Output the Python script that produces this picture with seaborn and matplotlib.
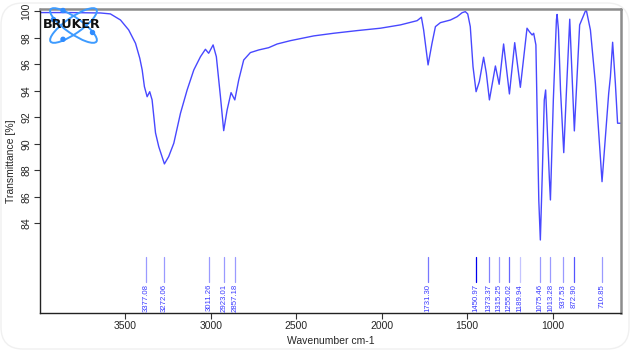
import matplotlib
matplotlib.use("Agg")
import matplotlib.pyplot as plt
import matplotlib.transforms as mtransforms
from matplotlib.patches import Ellipse, Circle, FancyBboxPatch
import seaborn as sns
import pandas as pd

# ---- data ----
wavenumber = [4000, 3822, 3646, 3588, 3529, 3481, 3441, 3416, 3402, 3389, 3373, 3358,
              3344, 3324, 3305, 3272, 3247, 3217, 3178, 3139, 3100, 3061, 3032, 3013,
              2987, 2968, 2944, 2925, 2905, 2882, 2860, 2837, 2808, 2769, 2720, 2662,
              2612, 2535, 2398, 2281, 2144, 2008, 1891, 1793, 1768, 1755, 1729, 1706,
              1686, 1657, 1598, 1559, 1530, 1511, 1497, 1482, 1466, 1448, 1429, 1404,
              1388, 1370, 1335, 1313, 1287, 1253, 1222, 1189, 1150, 1136, 1120, 1111,
              1098, 1090, 1081, 1072, 1060, 1049, 1041, 1031, 1019, 1013, 996, 978,
              974, 966, 954, 935, 919, 900, 873, 842, 822, 804, 779, 750, 711, 672,
              662, 649, 633, 620, 600]
transmittance = [99.90, 99.90, 99.87, 99.80, 99.34, 98.59, 97.58, 96.45, 95.57, 94.31, 93.55, 93.93,
                 93.31, 90.82, 89.78, 88.48, 89.03, 90.04, 92.30, 94.06, 95.57, 96.57, 97.13, 96.83,
                 97.46, 96.57, 93.55, 90.99, 92.55, 93.86, 93.31, 94.82, 96.32, 96.88, 97.08, 97.25,
                 97.53, 97.78, 98.14, 98.34, 98.54, 98.72, 98.97, 99.29, 99.55, 98.59, 95.95, 97.58,
                 98.84, 99.14, 99.34, 99.59, 99.89, 99.97, 99.80, 98.84, 95.82, 93.93, 94.69, 96.53,
                 95.32, 93.31, 95.87, 94.49, 97.53, 93.76, 97.63, 94.26, 98.72, 98.46, 98.21, 98.34,
                 97.46, 91.80, 85.70, 82.74, 88.00, 93.30, 94.06, 91.00, 87.30, 85.76, 93.30, 99.34,
                 99.76, 98.60, 94.06, 89.33, 94.06, 99.40, 90.97, 98.97, 99.59, 100.15, 98.59, 94.57, 87.14, 93.81,
                 95.06, 97.66, 94.57, 91.55, 91.55]

peak_positions = [3377.08, 3272.06, 3011.26, 2923.01, 2857.18, 1731.30, 1450.97, 1373.37,
                  1315.25, 1255.02, 1189.94, 1075.46, 1013.28, 937.53, 872.90, 710.85]
peak_labels = ["3377.08", "3272.06", "3011.26", "2923.01", "2857.18", "1731.30", "1450.97", "1373.37",
               "1315.25", "1255.02", "1189.94", "1075.46", "1013.28", "937.53", "872.90", "710.85"]
peak_line_colors = ["#9a9aff", "#9a9aff", "#9a9aff", "#9a9aff", "#9a9aff", "#7777ff", "#0000ee", "#8080ff",
                    "#9a9aff", "#6666ff", "#c4c4ff", "#9a9aff", "#9a9aff", "#9a9aff", "#5555ff", "#9a9aff"]

x_ticks = [3500, 3000, 2500, 2000, 1500, 1000]
y_ticks = [84, 86, 88, 90, 92, 94, 96, 98, 100]

df = pd.DataFrame({"Wavenumber": wavenumber, "Transmittance": transmittance})

sns.set_style("white")
plt.rcParams["font.family"] = ["Liberation Sans", "DejaVu Sans"]

fig = plt.figure(figsize=(6.33, 3.52), dpi=100)
ax = fig.add_axes([40 / 633, 39 / 352, 581 / 633, 304 / 352])

sns.lineplot(data=df, x="Wavenumber", y="Transmittance", ax=ax, color="#4848ff",
             linewidth=1.0, sort=True, estimator=None)

ax.set_xlim(4000, 600)
ax.set_ylim(77.23, 100.17)
ax.set_xticks(x_ticks)
ax.set_xticklabels([str(t) for t in x_ticks], fontsize=7.5)
ax.set_yticks(y_ticks)
ax.set_yticklabels([str(t) for t in y_ticks], fontsize=7.5, rotation=90, va="center")
ax.tick_params(axis="both", direction="out", length=4, width=0.8, color="#333333",
               left=True, bottom=True, pad=2)
ax.set_xlabel("Wavenumber cm-1", fontsize=7.5, labelpad=3)
ax.set_ylabel("Transmittance [%]", fontsize=7.5, labelpad=4)

for side in ["left", "bottom"]:
    ax.spines[side].set_color("#222222")
    ax.spines[side].set_linewidth(1.0)
for side in ["top", "right"]:
    ax.spines[side].set_color("#8c8c8c")
    ax.spines[side].set_linewidth(1.8)

# peak markers
trans = mtransforms.blended_transform_factory(ax.transData, ax.transAxes)
for pos, lab, c in zip(peak_positions, peak_labels, peak_line_colors):
    ax.plot([pos, pos], [0.184, 0.103], transform=trans, color=c, linewidth=0.9, clip_on=False)
    ax.text(pos, 0.095, lab, transform=trans, rotation=90, ha="center", va="top",
            fontsize=5.6, color="#3a3aff")

# Bruker logo (pixel coordinates, origin bottom-left)
pix = mtransforms.IdentityTransform()
cx, cy = 73.5, 352 - 25.5
for ang in (35, -35):
    fig.patches.append(Ellipse((cx, cy), 56, 16, angle=ang, fill=False,
                               edgecolor="#3d9bff", linewidth=1.4, transform=pix))
for (dx, dy) in [(-10.5, 15.0), (-10.5, -13.8), (-20, 6), (19, -7)]:
    fig.patches.append(Circle((cx + dx, cy + dy), 2.0, color="#2f8cff", transform=pix))
fig.text(71.5 / 633, 1 - 25 / 352, "BRUKER", ha="center", va="center", fontsize=9.2,
         fontweight="bold", family="DejaVu Sans", color="#111111")

# faint rounded frame of the picture
fig.patches.append(FancyBboxPatch((1, 3), 628, 346, boxstyle="round,pad=0,rounding_size=22",
                                  fill=False, edgecolor="#f0f0f0", linewidth=1.0, transform=pix))

fig.savefig("out.png", dpi=100)
